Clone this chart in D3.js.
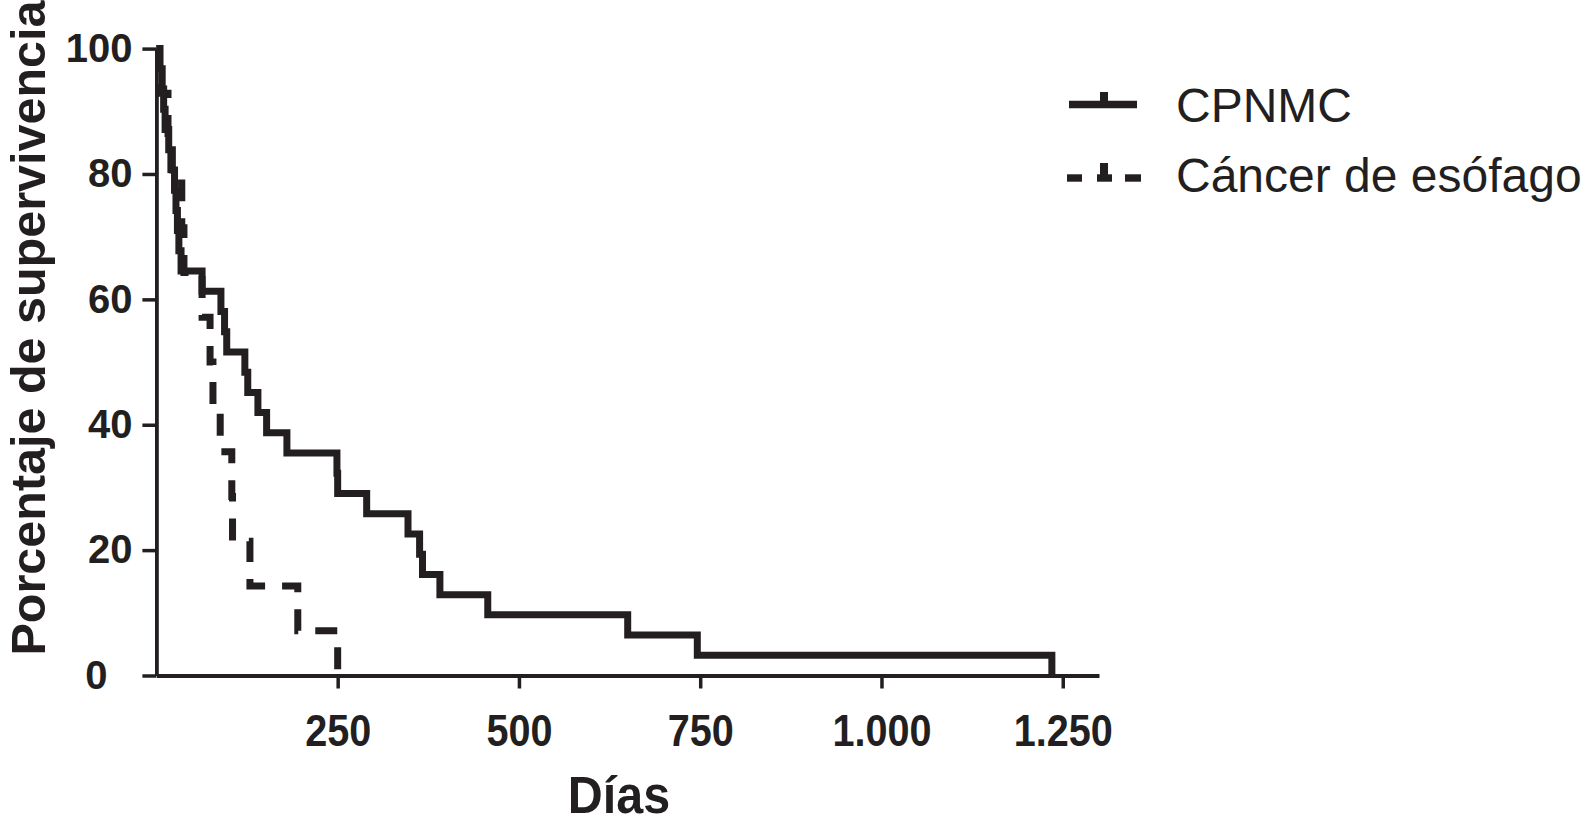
<!DOCTYPE html>
<html>
<head>
<meta charset="utf-8">
<script src="https://cdn.jsdelivr.net/npm/d3@7"></script>
<style>
  html, body { margin: 0; padding: 0; background: #fff; }
  svg { display: block; }
</style>
</head>
<body>
<svg id="chart" width="1588" height="824"></svg>
<script>
// ---------------- data ----------------
const seriesNames = ["CPNMC", "Cáncer de esófago"];

const cpnmcDays = [0, 3, 8, 10, 12, 17, 22, 25, 27, 29, 31, 34, 63, 89, 94, 97, 122, 126, 140, 152, 180, 249, 250, 290, 347, 363, 367, 391, 457, 650, 746, 1235];
const cpnmcSurv = [100, 96.77, 93.55, 90.32, 87.10, 83.87, 80.65, 77.42, 74.19, 70.97, 67.74, 64.52, 61.29, 58.06, 54.84, 51.61, 48.39, 45.16, 41.94, 38.71, 35.48, 32.26, 29.03, 25.81, 22.58, 19.35, 16.13, 12.90, 9.68, 6.45, 3.23, 0];

const esofagoDays = [0, 5, 16, 20, 35, 38, 63, 74, 78, 88, 104, 105, 129, 195, 250];
const esofagoSurv = [100, 92.86, 85.71, 78.57, 71.43, 64.29, 57.14, 50.00, 42.86, 35.71, 28.57, 21.43, 14.29, 7.14, 0];

const xTicks = [250, 500, 750, 1000, 1250];
const yTicks = [0, 20, 40, 60, 80, 100];
const xDomain = [0, 1300];
const yDomain = [0, 100];
const xTitle = "Días";
const yTitle = "Porcentaje de supervivencia";

// ---------------- chart ----------------
const svg = d3.select("#chart");
const x = d3.scaleLinear().domain(xDomain).range([156.4, 1099]);
const y = d3.scaleLinear().domain(yDomain).range([675.5, 48.6]);

const esLocale = d3.formatLocale({decimal: ",", thousands: ".", grouping: [3], currency: ["", ""]});
const fmt = esLocale.format(",d");

const ink = "#231f20";
const boldFont = "'Liberation Sans', Arial, Helvetica, sans-serif";

// Y axis
const yAxis = svg.append("g")
  .attr("transform", `translate(${x(0)},0)`)
  .call(d3.axisLeft(y).tickValues(yTicks).tickSize(14).tickSizeOuter(0).tickPadding(10).tickFormat(d3.format("d")));
yAxis.select(".domain").attr("stroke", ink).attr("stroke-width", 3.8);
yAxis.selectAll(".tick line").attr("stroke", ink).attr("stroke-width", 3.5);
yAxis.selectAll(".tick text")
  .attr("fill", ink)
  .style("font-family", boldFont)
  .style("font-weight", "bold")
  .style("font-size", "40px");
yAxis.selectAll(".tick").filter(d => d === 0).select("text").attr("x", -49);

// X axis
const xAxis = svg.append("g")
  .attr("transform", `translate(0,${y(0)})`)
  .call(d3.axisBottom(x).tickValues(xTicks).tickSize(13).tickSizeOuter(0).tickPadding(26).tickFormat(fmt));
xAxis.select(".domain").attr("stroke", ink).attr("stroke-width", 3.8);
xAxis.selectAll(".tick line").attr("stroke", ink).attr("stroke-width", 3.5);
xAxis.selectAll(".tick text")
  .attr("fill", ink)
  .attr("transform", "scale(0.88,1)")
  .style("font-family", boldFont)
  .style("font-weight", "bold")
  .style("font-size", "45px");

// Axis titles
svg.append("text")
  .attr("x", 619).attr("y", 813)
  .attr("text-anchor", "middle")
  .attr("transform", "translate(619,0) scale(0.95,1) translate(-619,0)")
  .attr("fill", ink)
  .style("font-family", boldFont)
  .style("font-weight", "bold")
  .style("font-size", "51px")
  .text(xTitle);

svg.append("text")
  .attr("transform", "translate(44.5,328) rotate(-90)")
  .attr("text-anchor", "middle")
  .attr("fill", ink)
  .style("font-family", boldFont)
  .style("font-weight", "bold")
  .style("font-size", "48.5px")
  .text(yTitle);

// Survival curves
const line = d3.line().x(d => x(d[0])).y(d => y(d[1])).curve(d3.curveStepAfter);
const cpnmc = cpnmcDays.map((d, i) => [d, cpnmcSurv[i]]);
const esofago = esofagoDays.map((d, i) => [d, esofagoSurv[i]]);

svg.append("path")
  .datum(esofago)
  .attr("d", line)
  .attr("fill", "none")
  .attr("stroke", ink)
  .attr("stroke-width", 7)
  .attr("stroke-dasharray", "22,17")
  .attr("stroke-linejoin", "miter");

svg.append("path")
  .datum(cpnmc)
  .attr("d", line)
  .attr("fill", "none")
  .attr("stroke", ink)
  .attr("stroke-width", 7)
  .attr("stroke-linejoin", "miter");

// Legend
const leg = svg.append("g");
// row 1: solid
leg.append("line").attr("x1", 1069).attr("x2", 1137).attr("y1", 104.5).attr("y2", 104.5)
  .attr("stroke", ink).attr("stroke-width", 7.6);
leg.append("rect").attr("x", 1100).attr("y", 92).attr("width", 8).attr("height", 10).attr("fill", ink);
leg.append("text").attr("x", 1176).attr("y", 121.5)
  .attr("fill", ink).style("font-family", boldFont).style("font-size", "48px")
  .text(seriesNames[0]);
// row 2: dashed
leg.append("rect").attr("x", 1067).attr("y", 174.3).attr("width", 15).attr("height", 7.4).attr("fill", ink);
leg.append("rect").attr("x", 1097).attr("y", 174.3).attr("width", 15).attr("height", 7.4).attr("fill", ink);
leg.append("rect").attr("x", 1100).attr("y", 163).attr("width", 8).attr("height", 12).attr("fill", ink);
leg.append("rect").attr("x", 1125).attr("y", 174.3).attr("width", 16).attr("height", 7.4).attr("fill", ink);
leg.append("text").attr("x", 1176).attr("y", 191.5)
  .attr("fill", ink).style("font-family", boldFont).style("font-size", "48px")
  .text(seriesNames[1]);
</script>
</body>
</html>
